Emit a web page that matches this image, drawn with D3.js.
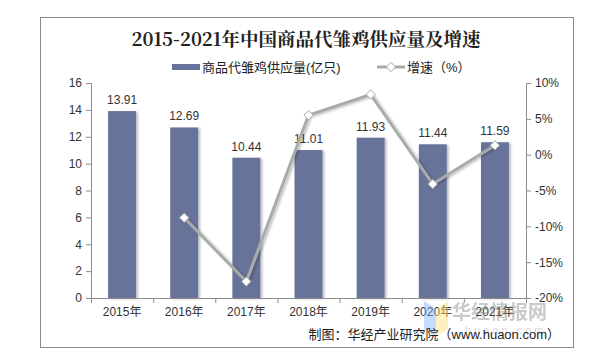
<!DOCTYPE html>
<html>
<head>
<meta charset="utf-8">
<script src="https://cdn.jsdelivr.net/npm/d3@7"></script>
<style>
  body { margin: 0; background: #fff; }
  svg text { font-family: Arial, "Liberation Sans", "Noto Sans CJK SC", sans-serif; }
</style>
</head>
<body>
<div id="chart"></div>
<script>
const WIDTH = 607
const HEIGHT = 364

// data
const years = ["2015年", "2016年", "2017年", "2018年", "2019年", "2020年", "2021年"]
const supply = [13.91, 12.69, 10.44, 11.01, 11.93, 11.44, 11.59]
const growth = [null, -8.8, -17.7, 5.5, 8.4, -4.1, 1.3]
const leftTicks = [0, 2, 4, 6, 8, 10, 12, 14, 16]
const rightTicks = [-20, -15, -10, -5, 0, 5, 10]

const margin = { left: 91, right: 81, top: 83, bottom: 66 }
const plotW = WIDTH - margin.left - margin.right
const plotH = HEIGHT - margin.top - margin.bottom

const svg = d3.select("#chart")
    .append("svg")
    .attr("width", WIDTH)
    .attr("height", HEIGHT)

// shadow for bars / line
const defs = svg.append("defs")
const f = defs.append("filter").attr("id", "shadow")
    .attr("x", "-20%").attr("y", "-20%").attr("width", "150%").attr("height", "150%")
f.append("feDropShadow")
    .attr("dx", 2).attr("dy", 1).attr("stdDeviation", 1.2)
    .attr("flood-color", "#000").attr("flood-opacity", 0.25)

// outer frame
svg.append("rect")
    .attr("x", 40.5).attr("y", 17.5)
    .attr("width", 533).attr("height", 330)
    .attr("fill", "none")
    .attr("stroke", "#8c8c8c")

// title
svg.append("text")
    .attr("x", 306).attr("y", 46)
    .attr("text-anchor", "middle")
    .style("font-family", "'Noto Serif CJK SC', 'Noto Sans CJK SC', serif")
    .style("font-size", "18.5px")
    .style("font-weight", "bold")
    .attr("fill", "#222")
    .text("2015-2021年中国商品代雏鸡供应量及增速")

const x = d3.scaleBand()
    .domain(years)
    .range([margin.left, margin.left + plotW])
    .paddingInner(0.55)
    .paddingOuter(0.275)

const y = d3.scaleLinear()
    .domain([0, 16])
    .range([margin.top + plotH, margin.top])

const y2 = d3.scaleLinear()
    .domain([-20, 10])
    .range([margin.top + plotH, margin.top])

// bars
svg.append("g")
    .selectAll("rect")
    .data(supply)
    .enter()
    .append("rect")
    .attr("x", (d, i) => x(years[i]))
    .attr("y", d => y(d))
    .attr("width", x.bandwidth())
    .attr("height", d => y(0) - y(d))
    .attr("fill", "#67739a")
    .attr("filter", "url(#shadow)")

// value labels
svg.append("g")
    .selectAll("text")
    .data(supply)
    .enter()
    .append("text")
    .attr("x", (d, i) => x(years[i]) + x.bandwidth() / 2)
    .attr("y", d => y(d) - 7)
    .attr("text-anchor", "middle")
    .style("font-size", "12px")
    .attr("fill", "#333")
    .text(d => d.toFixed(2))

// axes
const axisColor = "#8c8c8c"
const gl = svg.append("g")
    .attr("transform", `translate(${margin.left},0)`)
    .call(d3.axisLeft(y).tickValues(leftTicks).tickSize(5).tickPadding(4))
const gr = svg.append("g")
    .attr("transform", `translate(${margin.left + plotW},0)`)
    .call(d3.axisRight(y2).tickValues(rightTicks).tickSize(5).tickPadding(4)
        .tickFormat(d => d + "%"))
const gx = svg.append("g")
    .attr("transform", `translate(0,${margin.top + plotH})`)
    .call(d3.axisBottom(x).tickSize(0).tickPadding(9))

// x tick marks at category borders
const step = x.step()
svg.append("g")
    .selectAll("line")
    .data(d3.range(years.length + 1))
    .enter()
    .append("line")
    .attr("x1", d => margin.left + d * step + 0.5)
    .attr("x2", d => margin.left + d * step + 0.5)
    .attr("y1", margin.top + plotH)
    .attr("y2", margin.top + plotH + 5)
    .attr("stroke", axisColor)

;[gl, gr, gx].forEach(g => {
    g.selectAll("path").attr("stroke", axisColor)
    g.selectAll("line").attr("stroke", axisColor)
    g.selectAll("text")
        .style("font-family", "Arial, 'Liberation Sans', 'Noto Sans CJK SC', sans-serif")
        .style("font-size", "12px")
        .attr("fill", "#333")
})
gx.select("path").attr("d", `M${margin.left},0.5H${margin.left + plotW}`)

// growth line
const pts = growth.map((d, i) => ({ i, d })).filter(p => p.d !== null)
const line = d3.line()
    .x(p => x(years[p.i]) + x.bandwidth() / 2)
    .y(p => y2(p.d))

svg.append("path")
    .datum(pts)
    .attr("d", line)
    .attr("fill", "none")
    .attr("stroke", "#a7aca9")
    .attr("stroke-width", 3)
    .attr("filter", "url(#shadow)")

const diamond = d3.symbol().type(d3.symbolDiamond2).size(55)
svg.append("g")
    .selectAll("path")
    .data(pts)
    .enter()
    .append("path")
    .attr("d", diamond)
    .attr("transform", p => `translate(${x(years[p.i]) + x.bandwidth() / 2},${y2(p.d)})`)
    .attr("fill", "#fff")
    .attr("stroke", "#a7aca9")
    .attr("stroke-width", 1)

// legend
const lg = svg.append("g")
lg.append("rect")
    .attr("x", 172).attr("y", 64)
    .attr("width", 28).attr("height", 6)
    .attr("fill", "#67739a")
lg.append("text")
    .attr("x", 202).attr("y", 72)
    .style("font-size", "13px")
    .attr("fill", "#222")
    .text("商品代雏鸡供应量(亿只)")
lg.append("line")
    .attr("x1", 377).attr("x2", 405)
    .attr("y1", 67).attr("y2", 67)
    .attr("stroke", "#a7aca9").attr("stroke-width", 3)
lg.append("path")
    .attr("d", diamond)
    .attr("transform", "translate(391,67)")
    .attr("fill", "#fff")
    .attr("stroke", "#a7aca9")
lg.append("text")
    .attr("x", 407).attr("y", 72)
    .style("font-size", "13px")
    .attr("fill", "#222")
    .text("增速（%）")

// watermark
const wm = svg.append("g").attr("opacity", 0.45)
wm.append("path")
    .attr("d", "M424,301 L436,309 L436,337 L424,329 Z")
    .attr("fill", "#7fb0ff")
wm.append("path")
    .attr("d", "M436,309 L448,301 L448,329 L436,337 Z")
    .attr("fill", "#ffe07a")
wm.append("text")
    .attr("x", 452).attr("y", 319)
    .style("font-size", "19px")
    .style("font-weight", "bold")
    .attr("fill", "#888")
    .text("华经情报网")
wm.append("text")
    .attr("x", 465).attr("y", 334)
    .style("font-size", "11px")
    .style("letter-spacing", "3px")
    .attr("fill", "#aaa")
    .text("huaon.com")

// source
svg.append("text")
    .attr("x", 560).attr("y", 339)
    .attr("text-anchor", "end")
    .style("font-size", "13px")
    .attr("fill", "#222")
    .text("制图：华经产业研究院（www.huaon.com）")
</script>
</body>
</html>
